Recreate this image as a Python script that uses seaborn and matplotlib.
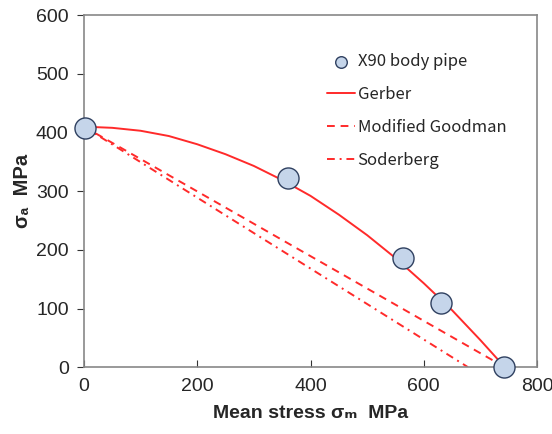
import matplotlib
matplotlib.use("Agg")
import matplotlib.pyplot as plt
import pandas as pd
import seaborn as sns

# measured points
mean_stress = [2, 360, 563, 630, 742]
amp_stress = [408, 323, 186, 110, 0]

# Gerber curve
gerber_x = [0, 50, 100, 150, 200, 250, 300, 350, 400, 450, 500, 550, 600, 650, 700, 743]
gerber_y = [410, 408, 403, 394, 380, 363, 343, 319, 292, 260, 225, 186, 143, 97, 46, 0]

# straight lines
goodman_x = [0, 743]
goodman_y = [410, 0]
soderberg_x = [0, 678]
soderberg_y = [410, 0]

sns.set_style("ticks")
plt.rcParams["font.family"] = ["Liberation Sans", "DejaVu Sans"]

fig = plt.figure(figsize=(5.52, 4.34), dpi=100)
ax = fig.add_axes([0.152, 0.154, 0.821, 0.811])

red = "#ff2a2a"
sns.lineplot(x=gerber_x, y=gerber_y, ax=ax, color=red, lw=1.4, sort=False, label="Gerber", zorder=2)
sns.lineplot(x=goodman_x, y=goodman_y, ax=ax, color=red, lw=1.4, sort=False,
             label="Modified Goodman", zorder=2)
ax.lines[-1].set_dashes([4, 3])
sns.lineplot(x=soderberg_x, y=soderberg_y, ax=ax, color=red, lw=1.4, sort=False,
             label="Soderberg", zorder=2)
ax.lines[-1].set_dashes([4, 2.5, 1, 2.5])
sns.scatterplot(x=mean_stress, y=amp_stress, ax=ax, s=230, color="#c5d5ea",
                edgecolor="#2f4060", linewidth=1.0, label="X90 body pipe", zorder=3, clip_on=False)

ax.set_xlim(0, 800)
ax.set_ylim(0, 600)
ax.set_xticks([0, 200, 400, 600, 800])
ax.set_yticks([0, 100, 200, 300, 400, 500, 600])
for s in ax.spines.values():
    s.set_visible(True)
    s.set_color("#888888")
    s.set_linewidth(1.2)
ax.tick_params(axis="x", direction="in", length=5, color="#333333", labelsize=14, pad=8)
ax.tick_params(axis="y", direction="out", length=5, color="#333333", labelsize=14, pad=6)

ax.set_xlabel("Mean stress σₘ  MPa", fontsize=14, fontweight="bold", labelpad=7)
ax.set_ylabel("σₐ  MPa", fontsize=14.5, fontweight="bold", labelpad=3)

h, l = ax.get_legend_handles_labels()
order = [l.index(n) for n in ["X90 body pipe", "Gerber", "Modified Goodman", "Soderberg"]]
ax.legend([h[i] for i in order], [l[i] for i in order], loc="upper right",
          bbox_to_anchor=(0.965, 0.935), frameon=False, handlelength=1.7,
          handletextpad=0.15, labelspacing=0.95, markerscale=0.55,
          prop={"family": ["Noto Sans CJK JP", "DejaVu Sans"], "size": 12})

fig.savefig("out.png", dpi=100)
